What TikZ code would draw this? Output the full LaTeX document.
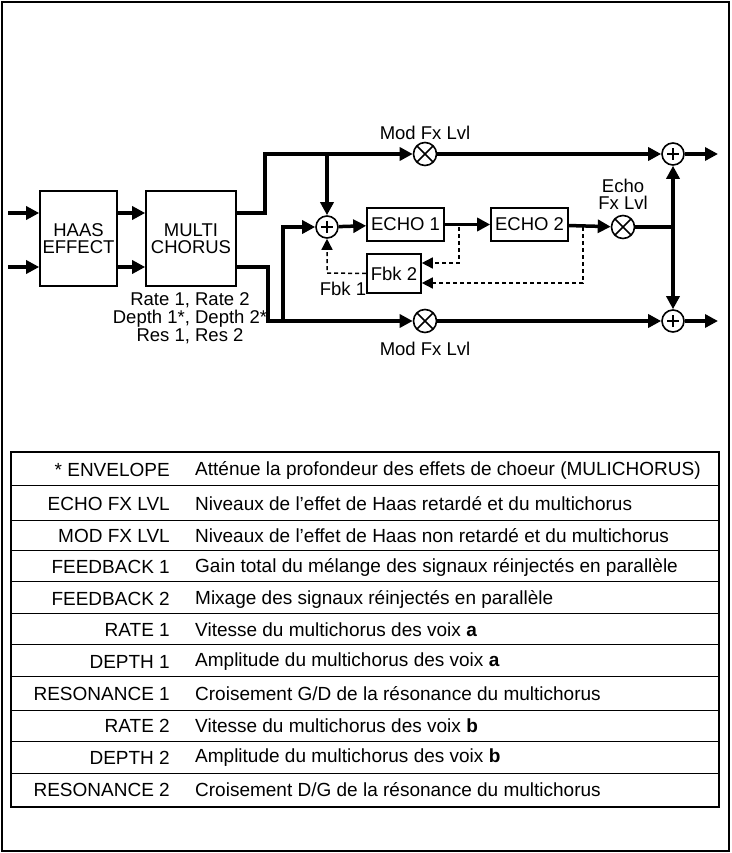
\documentclass[tikz,border=0pt]{standalone}
\usepackage{fontspec}
\setmainfont{Liberation Sans}
\usetikzlibrary{arrows.meta,calc}
\begin{document}
\begin{tikzpicture}[x=1pt,y=-1pt,
  box/.style={draw,line width=1.6pt,inner sep=0pt,font=\fontsize{18.5}{17}\selectfont,align=center},
  mul/.style={draw,circle,line width=1.6pt,minimum size=23pt,inner sep=0pt,
    path picture={\draw[line width=1.6pt] (path picture bounding box.center)++(-8pt,-8pt) -- ++(16pt,16pt);
                  \draw[line width=1.6pt] (path picture bounding box.center)++(-8pt,8pt) -- ++(16pt,-16pt);}},
  add/.style={draw,circle,line width=1.6pt,minimum size=22pt,inner sep=0pt,
    path picture={\draw[line width=1.6pt] (path picture bounding box.center)++(-6pt,0) -- ++(12pt,0);
                  \draw[line width=1.6pt] (path picture bounding box.center)++(0,-6pt) -- ++(0,12pt);}},
  sig/.style={line width=3.5pt,-{Triangle[length=13pt,width=13pt]}},
  wire/.style={line width=3.5pt},
  fb/.style={line width=1.5pt,dash pattern=on 4pt off 3pt,-{Triangle[length=11pt,width=11pt]}},
  lbl/.style={font=\fontsize{18.5}{17}\selectfont,inner sep=0pt,align=center},
  tl/.style={font=\fontsize{19}{19}\selectfont,inner sep=0pt,anchor=east},
  tr/.style={font=\fontsize{19}{19}\selectfont,inner sep=0pt,anchor=west}]
\useasboundingbox (0,0) rectangle (731,853);
\draw[line width=1.5pt] (2,2) rectangle (729,851);
% boxes
\node[box,minimum width=77pt,minimum height=95pt] (haas) at (78.5,238.5) {HAAS\\EFFECT};
\node[box,minimum width=90pt,minimum height=95pt] (mc) at (191,238.5) {MULTI\\CHORUS};
\node[box,minimum width=77pt,minimum height=33pt] (e1) at (405.5,224.5) {ECHO 1};
\node[box,minimum width=77pt,minimum height=33pt] (e2) at (529.5,224.5) {ECHO 2};
\node[box,minimum width=54pt,minimum height=39pt] (f2) at (394,273.5) {Fbk 2};
\node[mul] (mt) at (425,154) {};
\node[mul] (mb) at (425,321) {};
\node[mul] (me) at (623,227) {};
\node[add] (a1) at (327,227) {};
\node[add] (at) at (673,154) {};
\node[add] (ab) at (673,321) {};
% coordinates
\coordinate (i1) at (8,213); \coordinate (i2) at (8,267);
\coordinate (o1) at (718,154); \coordinate (o2) at (718,321);
\coordinate (j1) at (265,213); \coordinate (j2) at (268,267);
\coordinate (jt) at (265,154); \coordinate (jb) at (268,321);
\coordinate (bb) at (283,321); \coordinate (bu) at (283,227);
\coordinate (ta) at (327,154); \coordinate (vr) at (673,227);
\coordinate (d1) at (459,227); \coordinate (d2) at (583,227);
\coordinate (fl) at (327,273);
% signal
\draw[sig] (i1) -- (haas.west |- i1);
\draw[sig] (i2) -- (haas.west |- i2);
\draw[sig] (haas.east |- i1) -- (mc.west |- i1);
\draw[sig] (haas.east |- i2) -- (mc.west |- i2);
\draw[sig] (mc.east |- j1) -- (j1) -- (jt) -- (mt);
\draw[sig] (mc.east |- j2) -- (j2) -- (jb) -- (mb);
\draw[sig] (ta) -- (a1);
\draw[sig] (bb) -- (bu) -- (a1);
\draw[sig] (a1) -- (e1);
\draw[sig] (e1) -- (e2);
\draw[sig] (e2) -- (me);
\draw[wire] (me) -- (vr);
\draw[sig] (mt) -- (at);
\draw[sig] (mb) -- (ab);
\draw[sig] (vr) -- (at);
\draw[sig] (vr) -- (ab);
\draw[sig] (at) -- (o1);
\draw[sig] (ab) -- (o2);
% feedback
\draw[fb] (d1) -- (d1 |- 0,263) -- (f2.east |- 0,263);
\draw[fb] (d2) -- (d2 |- 0,283) -- (f2.east |- 0,283);
\draw[fb] (f2.west) -- (fl) -- (a1);
% labels
\node[lbl] (lt) at (425,133) {Mod Fx Lvl};
\node[lbl] (lb) at (425,349) {Mod Fx Lvl};
\node[lbl] (le) at (623,194) {Echo\\Fx Lvl};
\node[lbl] (lf) at (343,289) {Fbk 1};
\node[lbl,font=\fontsize{18.5}{18}\selectfont] (lr) at (190,318) {Rate 1, Rate 2\\Depth 1*, Depth 2*\\Res 1, Res 2};
% table
\draw[line width=1.8pt] (11,452) rectangle (719,807);
\foreach \y in {485,520,550,581,613,644,676,710,741,773}
  \draw[line width=1pt] (11,\y) -- (719,\y);
\node[tl] (k1) at (170,470) {* ENVELOPE};
\node[tr] (v1) at (195,470) {Atténue la profondeur des effets de choeur (MULICHORUS)};
\node[tl] (k2) at (170,504) {ECHO FX LVL};
\node[tr] (v2) at (195,504) {Niveaux de l’effet de Haas retardé et du multichorus};
\node[tl] (k3) at (170,536) {MOD FX LVL};
\node[tr] (v3) at (195,536) {Niveaux de l’effet de Haas non retardé et du multichorus};
\node[tl] (k4) at (170,567) {FEEDBACK 1};
\node[tr] (v4) at (195,567) {Gain total du mélange des signaux réinjectés en parallèle};
\node[tl] (k5) at (170,599) {FEEDBACK 2};
\node[tr] (v5) at (195,599) {Mixage des signaux réinjectés en parallèle};
\node[tl] (k6) at (170,630) {RATE 1};
\node[tr] (v6) at (195,630) {Vitesse du multichorus des voix \textbf{a}};
\node[tl] (k7) at (170,662) {DEPTH 1};
\node[tr] (v7) at (195,662) {Amplitude du multichorus des voix \textbf{a}};
\node[tl] (k8) at (170,694) {RESONANCE 1};
\node[tr] (v8) at (195,694) {Croisement G/D de la résonance du multichorus};
\node[tl] (k9) at (170,726) {RATE 2};
\node[tr] (v9) at (195,726) {Vitesse du multichorus des voix \textbf{b}};
\node[tl] (k10) at (170,758) {DEPTH 2};
\node[tr] (v10) at (195,758) {Amplitude du multichorus des voix \textbf{b}};
\node[tl] (k11) at (170,790) {RESONANCE 2};
\node[tr] (v11) at (195,790) {Croisement D/G de la résonance du multichorus};
\end{tikzpicture}
\end{document}
